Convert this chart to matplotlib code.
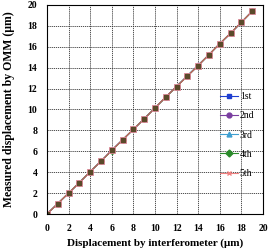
import matplotlib.pyplot as plt
from matplotlib.lines import Line2D

plt.rcParams['font.family'] = ['Liberation Serif', 'DejaVu Serif']

x = list(range(20))
run1 = [0, 1.0, 2.0, 3.0, 4.05, 5.05, 6.1, 7.1, 8.1, 9.1, 10.15, 11.2, 12.2, 13.2, 14.2, 15.25, 16.3, 17.3, 18.35, 19.4]
run2 = [0, 1.0, 2.0, 3.0, 4.05, 5.05, 6.1, 7.1, 8.1, 9.1, 10.15, 11.2, 12.2, 13.2, 14.25, 15.25, 16.3, 17.3, 18.35, 19.4]
run3 = [0, 1.0, 2.0, 3.05, 4.05, 5.05, 6.1, 7.1, 8.1, 9.15, 10.15, 11.2, 12.2, 13.25, 14.25, 15.25, 16.3, 17.3, 18.35, 19.4]
run4 = [0, 1.0, 2.0, 3.0, 4.05, 5.05, 6.05, 7.1, 8.1, 9.1, 10.15, 11.15, 12.2, 13.2, 14.2, 15.25, 16.3, 17.3, 18.35, 19.4]
run5 = [0, 1.0, 2.0, 3.0, 4.05, 5.05, 6.1, 7.1, 8.1, 9.1, 10.15, 11.2, 12.2, 13.2, 14.2, 15.25, 16.3, 17.3, 18.35, 19.4]
labels = ['1st', '2nd', '3rd', '4th', '5th']
colors = ['#1f3fd0', '#7a3fa0', '#3f9fd0', '#2a8a2a', '#f08080']
markers = ['s', 'o', '^', 'D', 'x']

fig = plt.figure(figsize=(2.7, 2.5), dpi=100)
ax = fig.add_axes([0.174, 0.144, 0.8, 0.836])

runs = [run1, run2, run3, run4, run5]
for y, c, m in zip(runs, colors, markers):
    ax.plot(x, y, color=c, lw=0.8, marker=m, ms=3)
# overlapping markers blend into dark squares
ax.plot(x, run1, color='#b06a5a', lw=0.9, marker='s', ms=4.5,
        markerfacecolor='#5a4a2a', markeredgecolor='#e08a9a', markeredgewidth=0.6)

ax.set_xlim(0, 20)
ax.set_ylim(0, 20)
ax.set_xticks(range(0, 21, 2))
ax.set_yticks(range(0, 21, 2))
ax.grid(True, color='#333333', ls=(0, (1.5, 1)), lw=0.6)
ax.tick_params(length=0, labelsize=7, pad=7)
for t in ax.get_xticklabels() + ax.get_yticklabels():
    t.set_fontweight('bold')
for s in ax.spines.values():
    s.set_linewidth(0.8)

ax.set_xlabel('Displacement by interferometer (\u03bcm)', fontsize=8, fontweight='bold', labelpad=4)
ax.set_ylabel('Measured displacement by OMM (\u03bcm)', fontsize=8.5, fontweight='bold', labelpad=9)

handles = [Line2D([], [], color=c, marker=m, ms=3.5, lw=0.8) for c, m in zip(colors, markers)]
ax.legend(handles, labels, loc='lower right', bbox_to_anchor=(1.0, 0.13), frameon=False,
          fontsize=7, handlelength=1.8, labelspacing=1.05, handletextpad=0.2)

fig.savefig('out.png', dpi=100)
